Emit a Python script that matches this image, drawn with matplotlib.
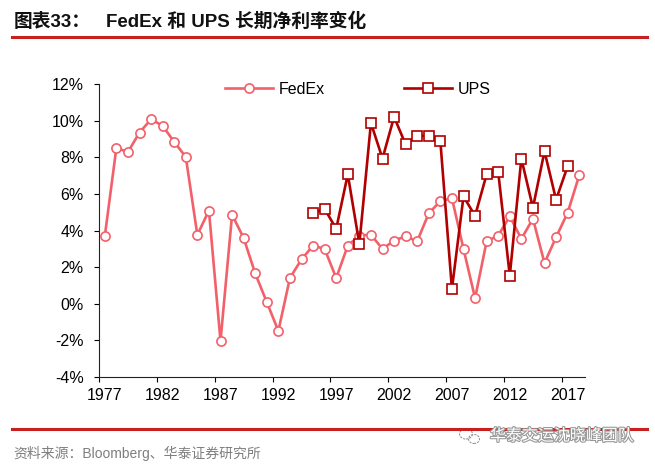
import matplotlib
matplotlib.use("Agg")
import matplotlib.pyplot as plt
import matplotlib.patheffects as pe
from matplotlib.lines import Line2D
from matplotlib.patches import Ellipse
from matplotlib.ticker import FixedLocator

# 数据（净利率，%）
fedex_years = list(range(1977, 2019))
fedex_margin = [3.69, 8.52, 8.30, 9.36, 10.09, 9.73, 8.85, 8.03, 3.77, 5.10,
                -2.03, 4.87, 3.60, 1.66, 0.09, -1.48, 1.41, 2.43, 3.18, 3.00,
                1.41, 3.18, 3.73, 3.78, 3.00, 3.46, 3.69, 3.42, 4.95, 5.61,
                5.78, 3.00, 0.31, 3.42, 3.73, 4.79, 3.55, 4.65, 2.23, 3.64,
                4.98, 7.02]
ups_years = list(range(1995, 2018))
ups_margin = [4.95, 5.19, 4.10, 7.08, 3.27, 9.89, 7.94, 10.22, 8.71, 9.18,
              9.18, 8.89, 0.81, 5.87, 4.81, 7.08, 7.20, 1.54, 7.94, 5.25,
              8.34, 5.69, 7.52]
label_years = [1977, 1982, 1987, 1992, 1997, 2002, 2007, 2012, 2017]
y_ticks = [-4, -2, 0, 2, 4, 6, 8, 10, 12]

fedex_color = "#F2606A"
ups_color = "#B00000"
red_line = "#C8201E"

plt.rcParams["font.family"] = ["Liberation Sans", "Noto Sans CJK SC", "DejaVu Sans"]

fig = plt.figure(figsize=(6.55, 4.65), dpi=100)
W, H = 655, 465
ax = fig.add_axes([99 / W, 1 - 377 / H, (585 - 99) / W, (377 - 84.3) / H])

ax.plot(fedex_years, fedex_margin, color=fedex_color, lw=1.9, marker="o",
        ms=6.6, mfc="white", mec=fedex_color, mew=1.2, label="FedEx", zorder=3)
ax.plot(ups_years, ups_margin, color=ups_color, lw=1.9, marker="s",
        ms=6.8, mfc="white", mec=ups_color, mew=1.2, label="UPS", zorder=4)

ax.set_xlim(1976.5, 2018.5)
ax.set_ylim(-4, 12)
ax.set_xticks(label_years)
ax.set_xticklabels([str(y) for y in label_years])
ax.xaxis.set_minor_locator(FixedLocator([y - 0.5 for y in label_years]))
ax.set_yticks(y_ticks)
ax.set_yticklabels([f"{v}%" for v in y_ticks])

ax.tick_params(axis="x", which="major", length=0, pad=8, labelsize=11.5)
ax.tick_params(axis="x", which="minor", length=3.6, width=0.8, direction="out")
ax.tick_params(axis="y", length=3.6, width=0.8, direction="out", pad=7.5,
               labelsize=11.5)
for s in ["top", "right"]:
    ax.spines[s].set_visible(False)
for s in ["left", "bottom"]:
    ax.spines[s].set_linewidth(0.8)
    ax.spines[s].set_color("#222222")

fig.legend(loc="center", bbox_to_anchor=(358 / W, 1 - 89 / H), ncol=2,
           frameon=False, fontsize=11.5, handlelength=3.0, handletextpad=0.35,
           columnspacing=5.0)

# 标题
fig.text(14 / W, 1 - 22 / H, "图表33：", fontsize=13.5, fontweight="bold",
         color="#111111", va="center", ha="left")
fig.text(106 / W, 1 - 22 / H, "FedEx 和 UPS 长期净利率变化", fontsize=13.5,
         fontweight="bold", color="#111111", va="center", ha="left")
fig.add_artist(Line2D([12 / W, 647 / W], [1 - 37 / H, 1 - 37 / H],
                      color=red_line, lw=2.2))

# 底部
fig.add_artist(Line2D([12 / W, 647 / W], [1 - 429 / H, 1 - 429 / H],
                      color=red_line, lw=2.2))
fig.text(13 / W, 1 - 453 / H, "资料来源：Bloomberg、华泰证券研究所",
         fontsize=10, color="#7F7F7F", va="center", ha="left")
fig.text(490 / W, 1 - 436 / H, "华泰交运沈晓峰团队", fontsize=11.5,
         color="white", va="center", ha="left",
         path_effects=[pe.withStroke(linewidth=1.6, foreground="#9A9A9A")])
fig.add_artist(Ellipse((466 / W, 1 - 434 / H), 13 / W, 10 / H, fill=False,
                       ec="#9A9A9A", lw=0.8, ls=(0, (2, 1))))
fig.add_artist(Ellipse((474 / W, 1 - 439 / H), 11 / W, 9 / H, fill=False,
                       ec="#9A9A9A", lw=0.8, ls=(0, (2, 1))))

fig.savefig("out.png", dpi=100)
